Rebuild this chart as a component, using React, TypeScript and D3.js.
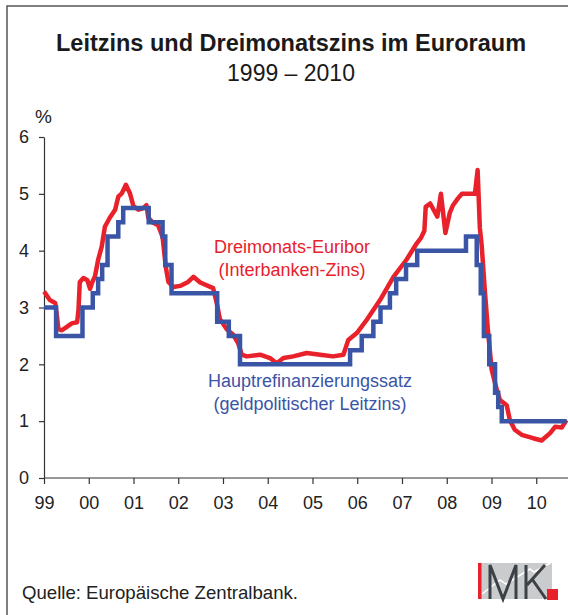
import { useEffect, useRef } from 'react'
import * as d3 from 'd3'

// 3M Euribor (year position, percent)
const euriborYears = [
  1999.0, 1999.02, 1999.13, 1999.25, 1999.29, 1999.32, 1999.4, 1999.51, 1999.62, 1999.74,
  1999.77, 1999.8, 1999.88, 1999.97, 2000.03, 2000.08, 2000.14, 2000.21, 2000.29, 2000.36,
  2000.47, 2000.59, 2000.66, 2000.74, 2000.83, 2000.92, 2001.0, 2001.11, 2001.22, 2001.29,
  2001.33, 2001.44, 2001.55, 2001.65, 2001.72, 2001.78, 2001.89, 2002.04, 2002.22, 2002.34,
  2002.49, 2002.78, 2002.86, 2002.93, 2003.08, 2003.23, 2003.34, 2003.42, 2003.53, 2003.83,
  2004.05, 2004.2, 2004.35, 2004.57, 2004.87, 2005.17, 2005.46, 2005.69, 2005.8, 2005.99,
  2006.21, 2006.51, 2006.81, 2007.1, 2007.33, 2007.42, 2007.5, 2007.53, 2007.63, 2007.79,
  2007.87, 2007.97, 2008.07, 2008.14, 2008.25, 2008.34, 2008.63, 2008.69, 2008.74, 2008.78,
  2008.855, 2008.92, 2009.005, 2009.12, 2009.19, 2009.34, 2009.41, 2009.52, 2009.675, 2009.93,
  2010.12, 2010.31, 2010.42, 2010.57, 2010.68,
]
const euriborValues = [
  3.28, 3.26, 3.13, 3.08, 2.85, 2.62, 2.6, 2.66, 2.72, 2.74,
  2.95, 3.45, 3.52, 3.48, 3.33, 3.45, 3.55, 3.84, 4.07, 4.42,
  4.58, 4.72, 4.95, 5.01, 5.16, 5.01, 4.78, 4.72, 4.75, 4.8,
  4.58, 4.49, 4.45, 4.24, 3.72, 3.45, 3.36, 3.38, 3.45, 3.54,
  3.44, 3.34, 3.08, 2.8, 2.62, 2.52, 2.37, 2.17, 2.14, 2.17,
  2.11, 2.02, 2.11, 2.14, 2.2, 2.17, 2.14, 2.17, 2.43, 2.55,
  2.78, 3.13, 3.54, 3.84, 4.13, 4.22, 4.35, 4.77, 4.83, 4.6,
  5.0, 4.31, 4.67, 4.8, 4.92, 5.0, 5.0, 5.42, 4.4, 4.1,
  3.26, 2.6, 1.9, 1.55, 1.37, 1.28, 1.02, 0.85, 0.76, 0.7,
  0.66, 0.79, 0.9, 0.89, 1.02,
]

// ECB main refinancing rate, step changes (year position, percent)
const refiYears = [
  1999.0, 1999.27, 1999.86, 2000.09, 2000.21, 2000.3, 2000.42, 2000.66, 2000.77, 2001.34,
  2001.65, 2001.71, 2001.85, 2002.87, 2003.13, 2003.38, 2005.84, 2006.1, 2006.36, 2006.52,
  2006.73, 2006.87, 2007.09, 2007.34, 2008.43, 2008.67, 2008.76, 2008.83, 2008.95, 2009.08,
  2009.15, 2009.23, 2010.68,
]
const refiValues = [
  3.0, 2.5, 3.0, 3.25, 3.5, 3.75, 4.25, 4.5, 4.75, 4.5,
  4.25, 3.75, 3.25, 2.75, 2.5, 2.0, 2.25, 2.5, 2.75, 3.0,
  3.25, 3.5, 3.75, 4.0, 4.25, 3.75, 3.25, 2.5, 2.0, 1.5,
  1.25, 1.0, 1.0,
]

const yearTicks = [1999, 2000, 2001, 2002, 2003, 2004, 2005, 2006, 2007, 2008, 2009, 2010]
const yearLabels = ['99', '00', '01', '02', '03', '04', '05', '06', '07', '08', '09', '10']
const percentTicks = [0, 1, 2, 3, 4, 5, 6]

const RED = '#e8212a'
const BLUE = '#3a55a5'
const FONT = '"Liberation Sans", Arial, sans-serif'

export default function App() {
  const ref = useRef<SVGSVGElement>(null)

  useEffect(() => {
    if (!ref.current) return
    const svg = d3.select(ref.current)
    svg.selectAll('*').remove()

    const x = d3.scaleLinear().domain([1999, 2010.75]).range([44, 569.8])
    const y = d3.scaleLinear().domain([0, 6]).range([478, 137])

    // frame
    svg.append('path')
      .attr('d', 'M7,615 V6 H568')
      .attr('fill', 'none')
      .attr('stroke', '#555')
      .attr('stroke-width', 1.5)

    // titles
    svg.append('text')
      .attr('x', 291).attr('y', 51)
      .attr('text-anchor', 'middle')
      .attr('font-size', 23.5).attr('font-weight', 'bold')
      .attr('fill', '#1a1a1a')
      .text('Leitzins und Dreimonatszins im Euroraum')
    svg.append('text')
      .attr('x', 291).attr('y', 81)
      .attr('text-anchor', 'middle')
      .attr('font-size', 23)
      .attr('fill', '#1a1a1a')
      .text('1999 – 2010')
    svg.append('text')
      .attr('x', 35).attr('y', 123)
      .attr('font-size', 19)
      .attr('fill', '#222')
      .text('%')

    // axes
    const yAxis = svg.append('g')
      .attr('transform', `translate(${x(1999)},0)`)
      .call(d3.axisLeft(y).tickValues(percentTicks).tickSize(5).tickSizeOuter(0).tickPadding(10).tickFormat(d3.format('d')))
    const xAxis = svg.append('g')
      .attr('transform', `translate(0,${y(0)})`)
      .call(d3.axisBottom(x).tickValues(yearTicks).tickSize(6).tickSizeOuter(0).tickPadding(12)
        .tickFormat((_, i) => yearLabels[i]))
    xAxis.select('.domain').attr('d', `M${x(1999)},0H568`)
    for (const g of [xAxis, yAxis]) {
      g.selectAll('path, line').attr('stroke', '#333').attr('stroke-width', 1.2)
      g.selectAll('text').attr('fill', '#222').attr('font-size', 18).attr('font-family', FONT)
    }

    const euribor = euriborYears.map((t, i) => ({ t, v: euriborValues[i] }))
    const refi = refiYears.map((t, i) => ({ t, v: refiValues[i] }))

    const line = d3.line<{ t: number; v: number }>()
      .x(d => x(d.t))
      .y(d => y(d.v))

    svg.append('path')
      .datum(euribor)
      .attr('fill', 'none')
      .attr('stroke', RED)
      .attr('stroke-width', 4.5)
      .attr('stroke-linejoin', 'round')
      .attr('d', line)

    svg.append('path')
      .datum(refi)
      .attr('fill', 'none')
      .attr('stroke', BLUE)
      .attr('stroke-width', 4.5)
      .attr('d', line.curve(d3.curveStepAfter))

    // series labels
    const label = (lines: string[], cx: number, y0: number, color: string) => {
      lines.forEach((s, i) => {
        svg.append('text')
          .attr('x', cx).attr('y', y0 + i * 23)
          .attr('text-anchor', 'middle')
          .attr('font-size', 18)
          .attr('fill', color)
          .text(s)
      })
    }
    label(['Dreimonats-Euribor', '(Interbanken-Zins)'], 292, 253, RED)
    label(['Hauptrefinanzierungssatz', '(geldpolitischer Leitzins)'], 310, 387, BLUE)

    // source
    svg.append('text')
      .attr('x', 22).attr('y', 599)
      .attr('font-size', 18.6)
      .attr('fill', '#222')
      .text('Quelle: Europäische Zentralbank.')

    // IMK logo
    const logo = svg.append('g')
    logo.append('rect').attr('x', 478).attr('y', 563).attr('width', 74).attr('height', 36).attr('fill', '#c9cbcd')
    logo.append('path')
      .attr('d', 'M482,594 L500,580 L506,584 L530,569 L534,572 L552,562')
      .attr('fill', 'none').attr('stroke', '#fff').attr('stroke-width', 1.5)
    logo.append('rect').attr('x', 478).attr('y', 563).attr('width', 3.5).attr('height', 36).attr('fill', RED)
    logo.append('path')
      .attr('d', 'M490,599 V565 L503,599 L516,565 V599 M526,565 V599 M545,565 L527,585 M532,579 L546,599')
      .attr('fill', 'none').attr('stroke', '#3c4146').attr('stroke-width', 3)
    logo.append('rect').attr('x', 547).attr('y', 589).attr('width', 11).attr('height', 11).attr('fill', RED)
  }, [])

  return (
    <svg
      ref={ref}
      width={568}
      height={615}
      style={{ position: 'absolute', left: 0, top: 0, fontFamily: FONT, background: '#fff' }}
    />
  )
}
